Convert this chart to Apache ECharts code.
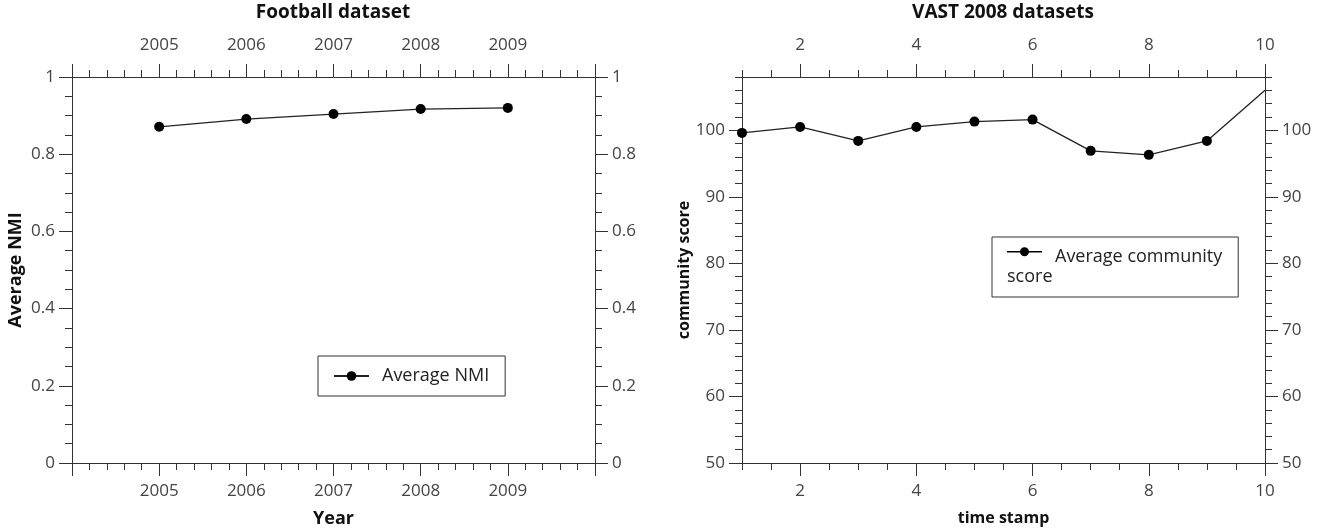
<!DOCTYPE html>
<html>
<head>
<meta charset="utf-8">
<script src="https://cdn.jsdelivr.net/npm/echarts@6/dist/echarts.min.js"></script>
<style>
  html, body { margin: 0; padding: 0; background: #fff; }
  #chart { width: 1326px; height: 528px; }
</style>
</head>
<body>
<div id="chart"></div>
<script>
// left panel: Football dataset
const years = [2005, 2006, 2007, 2008, 2009];
const avgNMI = [0.871, 0.891, 0.904, 0.917, 0.920];
const yearTicks = [2004, 2005, 2006, 2007, 2008, 2009, 2010];
const yearLabels = [2005, 2006, 2007, 2008, 2009];
const nmiTicks = [0, 0.2, 0.4, 0.6, 0.8, 1];

// right panel: VAST 2008 datasets
const timeStamps = [1, 2, 3, 4, 5, 6, 7, 8, 9, 10];
const avgScore = [99.6, 100.5, 98.4, 100.5, 101.3, 101.6, 96.9, 96.3, 98.4, 106.0];
const stampTicks = [2, 4, 6, 8, 10];
const scoreTicks = [50, 60, 70, 80, 90, 100];

const FONT = 'Open Sans';
const AXIS_COLOR = '#333';
const LABEL_COLOR = '#444';

const chart = echarts.init(document.getElementById('chart'));

// the main grid and the overlay grid (minor ticks) share the same box
const gridL = () => ({ left: 72, top: 77, width: 523, height: 386, outerBoundsMode: 'none' });
const gridR = () => ({ left: 742, top: 77, width: 523, height: 386, outerBoundsMode: 'none' });

function majorAxis(extra, nameSize) {
    return Object.assign({
        type: 'value',
        splitLine: { show: false },
        axisLine: { show: true, onZero: false, lineStyle: { color: AXIS_COLOR, width: 1 } },
        nameTextStyle: { color: '#111', fontSize: nameSize || 16, fontWeight: 'bold', fontFamily: FONT }
    }, extra);
}

function minorAxis(extra) {
    return Object.assign({
        type: 'value',
        splitLine: { show: false },
        axisLine: { show: false, onZero: false },
        axisTick: { show: true, length: 7, lineStyle: { color: AXIS_COLOR } },
        axisLabel: { show: false }
    }, extra);
}

const ticks = (vals) => ({ show: true, length: 13, lineStyle: { color: AXIS_COLOR }, customValues: vals });
const labels = (vals, m) => ({
    color: LABEL_COLOR, fontSize: 17, fontFamily: FONT, margin: m, customValues: vals,
    formatter: (v) => String(v)
});

// line + dot in the upper half of a 35x40 box, so it sits on the first text line
const twoLineIcon = 'path://M0,4.35h35v1.3h-35zM22,5a4.5,4.5,0,1,1,-9,0a4.5,4.5,0,1,1,9,0zM0,0.5h0.1M0,40h0.1';

var option = {
    animation: false,
    title: [
        {
            text: 'Football dataset', left: 333, top: 3, padding: 0, textAlign: 'center',
            textStyle: { fontSize: 19, fontWeight: 'bold', fontFamily: FONT, color: '#111' }
        },
        {
            text: 'VAST 2008 datasets', left: 1003, top: 3, padding: 0, textAlign: 'center',
            textStyle: { fontSize: 19, fontWeight: 'bold', fontFamily: FONT, color: '#111' }
        }
    ],
    grid: [gridL(), gridL(), gridR(), gridR()],
    legend: [
        {
            data: ['Average NMI'],
            left: 318, top: 356,
            orient: 'vertical',
            padding: [10, 16, 10, 15],
            itemWidth: 35, itemHeight: 12,
            borderColor: AXIS_COLOR, borderWidth: 1,
            textStyle: { fontSize: 18, fontFamily: FONT, color: '#222', padding: [0, 0, 0, 8], lineHeight: 20 }
        },
        {
            data: ['Average community score'],
            left: 992, top: 237,
            orient: 'vertical',
            padding: [10, 16, 10, 15],
            itemWidth: 35, itemHeight: 40,
            icon: twoLineIcon,
            borderColor: AXIS_COLOR, borderWidth: 1,
            // second line starts under the legend icon, as in the original
            formatter: () => '{a|Average community}\n{b|score}',
            textStyle: {
                fontSize: 18, fontFamily: FONT, color: '#222', padding: [0, 0, 0, 8], lineHeight: 20,
                rich: {
                    a: { fontSize: 18, fontFamily: FONT, color: '#222', lineHeight: 20 },
                    b: { fontSize: 18, fontFamily: FONT, color: '#222', lineHeight: 20, padding: [0, 0, 0, -48] }
                }
            }
        }
    ],
    xAxis: [
        majorAxis({
            gridIndex: 0, position: 'bottom', min: 2004, max: 2010, interval: 1,
            name: 'Year', nameLocation: 'middle', nameGap: 47,
            axisTick: ticks(yearTicks), axisLabel: labels(yearLabels, 20)
        }, 18),
        majorAxis({
            gridIndex: 0, position: 'top', min: 2004, max: 2010, interval: 1,
            axisTick: ticks(yearTicks), axisLabel: labels(yearLabels, 23)
        }),
        minorAxis({ gridIndex: 1, position: 'bottom', min: 2004, max: 2010, interval: 0.2 }),
        minorAxis({ gridIndex: 1, position: 'top', min: 2004, max: 2010, interval: 0.2 }),
        majorAxis({
            gridIndex: 2, position: 'bottom', min: 1, max: 10, interval: 0.5,
            name: 'time stamp', nameLocation: 'middle', nameGap: 47,
            axisTick: ticks(stampTicks), axisLabel: labels(stampTicks, 20)
        }, 16),
        majorAxis({
            gridIndex: 2, position: 'top', min: 1, max: 10, interval: 0.5,
            axisTick: ticks(stampTicks), axisLabel: labels(stampTicks, 23)
        }),
        minorAxis({ gridIndex: 3, position: 'bottom', min: 1, max: 10, interval: 0.5 }),
        minorAxis({ gridIndex: 3, position: 'top', min: 1, max: 10, interval: 0.5 })
    ],
    yAxis: [
        majorAxis({
            gridIndex: 0, position: 'left', min: 0, max: 1, interval: 0.2,
            name: 'Average NMI', nameLocation: 'middle', nameGap: 47,
            axisTick: ticks(nmiTicks), axisLabel: labels(nmiTicks, 17)
        }, 18),
        majorAxis({
            gridIndex: 0, position: 'right', min: 0, max: 1, interval: 0.2,
            axisTick: ticks(nmiTicks), axisLabel: labels(nmiTicks, 17)
        }),
        minorAxis({ gridIndex: 1, position: 'left', min: 0, max: 1, interval: 0.05 }),
        minorAxis({ gridIndex: 1, position: 'right', min: 0, max: 1, interval: 0.05 }),
        majorAxis({
            gridIndex: 2, position: 'left', min: 50, max: 108, interval: 2,
            name: 'community score', nameLocation: 'middle', nameGap: 48,
            axisTick: ticks(scoreTicks), axisLabel: labels(scoreTicks, 17)
        }, 16),
        majorAxis({
            gridIndex: 2, position: 'right', min: 50, max: 108, interval: 2,
            axisTick: ticks(scoreTicks), axisLabel: labels(scoreTicks, 17)
        }),
        minorAxis({ gridIndex: 3, position: 'left', min: 50, max: 108, interval: 2 }),
        minorAxis({ gridIndex: 3, position: 'right', min: 50, max: 108, interval: 2 })
    ],
    series: [
        {
            name: 'Average NMI',
            type: 'line',
            xAxisIndex: 0, yAxisIndex: 0,
            data: years.map((y, i) => [y, avgNMI[i]]),
            symbol: 'circle', symbolSize: 10,
            itemStyle: { color: '#000' },
            lineStyle: { color: '#222', width: 1.3 }
        },
        {
            name: 'Average community score',
            type: 'line',
            xAxisIndex: 4, yAxisIndex: 4,
            data: timeStamps.map((t, i) => {
                const item = { value: [t, avgScore[i]] };
                // the last point has no marker in the original
                if (i === timeStamps.length - 1) item.symbol = 'none';
                return item;
            }),
            symbol: 'circle', symbolSize: 10,
            itemStyle: { color: '#000' },
            lineStyle: { color: '#222', width: 1.3 }
        }
    ]
};

option && chart.setOption(option);
</script>
</body>
</html>
